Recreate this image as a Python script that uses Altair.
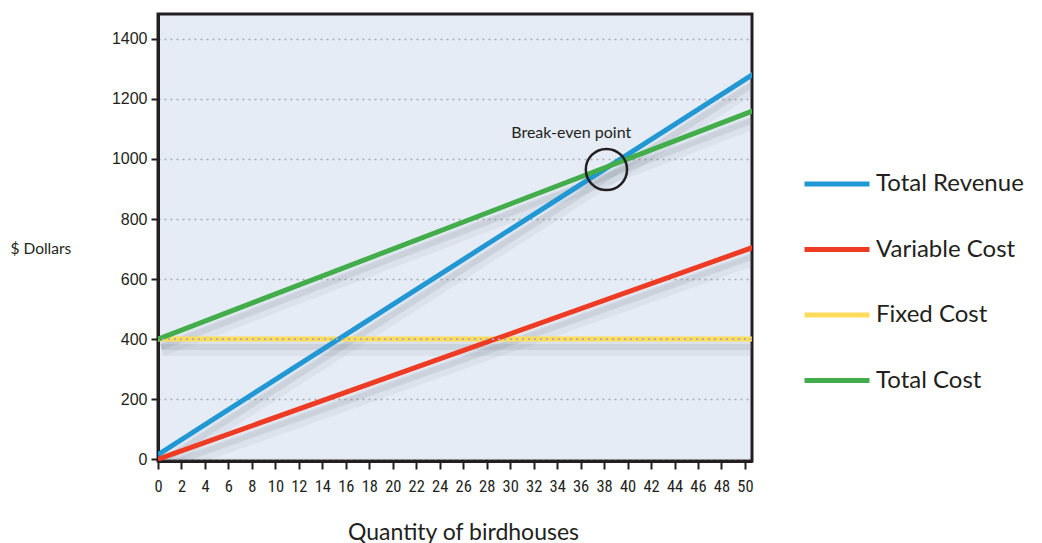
import altair as alt
import pandas as pd

# Line end points (quantity of birdhouses -> dollars)
quantity = [0, 51]
total_revenue = [15, 1290]
variable_cost = [0, 710]
fixed_cost = [400, 400]
total_cost = [400, 1165]

series_names = ["Total Revenue", "Variable Cost", "Fixed Cost", "Total Cost"]
series_colors = ["#2197d4", "#ee3b24", "#fddc5c", "#42ad4a"]
draw_order = ["Fixed Cost", "Variable Cost", "Total Revenue", "Total Cost"]

x_ticks = list(range(0, 51, 2))
y_ticks = list(range(0, 1401, 200))

# Break-even marker and its label
break_even_q = [38.2]
break_even_d = [965]
label_q = [35.2]
label_d = [1088]
label_text = ["Break-even point"]

values = {
    "Total Revenue": total_revenue,
    "Variable Cost": variable_cost,
    "Fixed Cost": fixed_cost,
    "Total Cost": total_cost,
}
rows = []
for name in draw_order:
    for q, d in zip(quantity, values[name]):
        rows.append({"series": name, "quantity": q, "dollars": d,
                     "z": draw_order.index(name)})
lines_df = pd.DataFrame(rows)

x_scale = alt.Scale(domain=[0, 50.6], nice=False, zero=False)
y_scale = alt.Scale(domain=[-6, 1483], nice=False, zero=False)

dark = "#231f20"

x_axis = alt.Axis(
    values=x_ticks, tickCount=26, format="d", title="Quantity of birdhouses",
    grid=False, domainColor=dark, domainWidth=3, tickColor=dark, tickWidth=2,
    tickSize=8, labelFont="Roboto Condensed, Liberation Sans Narrow, Roboto",
    labelFontSize=16.5, labelColor=dark, labelPadding=9, labelFlush=False,
    labelOverlap=False, labelBound=False,
    titleFont="Lato", titleFontSize=23, titleFontWeight="normal",
    titleColor=dark, titleBaseline="alphabetic", titleY=78, titleX=305,
)
y_axis = alt.Axis(
    values=y_ticks, format="d", title="$ Dollars", grid=True,
    gridColor="#a9abb0", gridDash=[2, 4], gridWidth=1.6,
    domainColor=dark, domainWidth=3, tickColor=dark, tickWidth=2,
    tickSize=7, labelFont="Liberation Sans", labelFontSize=16,
    labelColor=dark, labelPadding=4, labelFlush=False, labelOverlap=False,
    titleFont="Lato", titleFontSize=15.5, titleFontWeight="normal",
    titleColor=dark, titleAngle=0, titleAlign="left",
    titleBaseline="middle", titleX=-148, titleY=234,
)


def xq():
    return alt.X("quantity:Q", scale=x_scale, axis=x_axis)


def yd():
    return alt.Y("dollars:Q", scale=y_scale, axis=y_axis)


base = alt.Chart(lines_df)

# Soft drop shadow under each line
shadow_wide = base.mark_line(
    color="#5a5f6e", opacity=0.07, strokeWidth=14, clip=True,
    xOffset=4, yOffset=10,
).encode(x=xq(), y=yd(), detail="series:N")
shadow_core = base.mark_line(
    color="#5a5f6e", opacity=0.12, strokeWidth=6, clip=True,
    xOffset=3, yOffset=8,
).encode(x=xq(), y=yd(), detail="series:N")

lines = base.mark_line(strokeWidth=5, clip=True, strokeCap="butt").encode(
    x=xq(),
    y=yd(),
    color=alt.Color(
        "series:N",
        scale=alt.Scale(domain=series_names, range=series_colors),
        legend=alt.Legend(
            title=None, orient="none", legendX=644, legendY=135,
            symbolType="stroke", symbolSize=4225, symbolStrokeWidth=5,
            labelFont="Lato", labelFontSize=24, labelColor=dark,
            labelOffset=4, rowPadding=18.5, padding=0, direction="vertical",
        ),
    ),
    order=alt.Order("z:Q"),
)

# Dotted guide drawn over the fixed-cost line
fixed_df = pd.DataFrame({"dollars": [fixed_cost[0]]})
fixed_dots = alt.Chart(fixed_df).mark_rule(
    color="#a9abb0", strokeDash=[2, 4], strokeWidth=1.6
).encode(y=yd())

be_df = pd.DataFrame({"quantity": break_even_q, "dollars": break_even_d})
be_circle = alt.Chart(be_df).mark_point(
    shape="circle", size=1700, filled=False, color=dark,
    strokeWidth=2.5, opacity=1,
).encode(x=xq(), y=yd())

lbl_df = pd.DataFrame({"quantity": label_q, "dollars": label_d, "text": label_text})
be_label = alt.Chart(lbl_df).mark_text(
    font="Lato", fontSize=16, color=dark, align="center", baseline="middle",
).encode(x=xq(), y=yd(), text="text:N")

chart = alt.layer(
    shadow_wide, shadow_core, lines, fixed_dots, be_circle, be_label
).properties(
    width=594,
    height=447,
    autosize=alt.AutoSizeParams(type="none"),
    padding={"left": 158, "top": 14, "right": 290, "bottom": 82},
    background="white",
).configure_view(
    fill="#e6ecf6", stroke=dark, strokeWidth=3,
)

chart.save("out.html", embed_options={"renderer": "svg", "actions": False})
